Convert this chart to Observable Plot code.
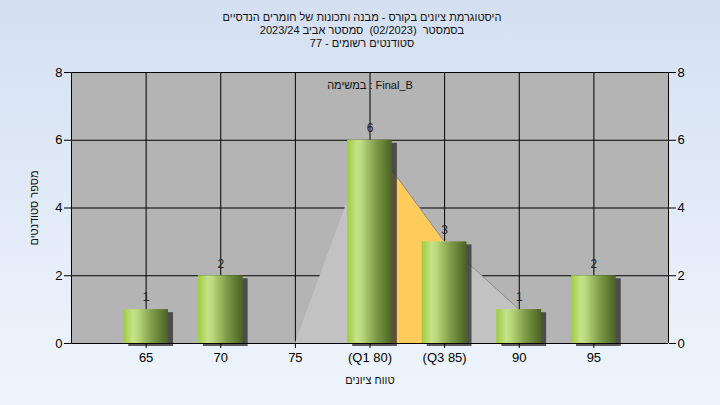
<!DOCTYPE html>
<html><head><meta charset="utf-8">
<script src="https://cdn.jsdelivr.net/npm/d3@7"></script>
<script src="https://cdn.jsdelivr.net/npm/@observablehq/plot@0.6"></script>
<style>
body{margin:0;}
#wrap{position:relative;width:720px;height:405px;background:linear-gradient(#d4e0f2,#eef5fd);font-family:"Liberation Sans",Arial,sans-serif;overflow:hidden}
#wrap svg{position:absolute;left:0;top:0}
.t{position:absolute;left:0;width:724px;text-align:center;font-size:11px;direction:rtl;color:#111;line-height:13px;white-space:pre}
.lab{position:absolute;font-size:11px;color:#111;white-space:pre;line-height:14px}
</style></head>
<body><div id="wrap"></div>
<script>
const scores = [65, 70, 75, 80, 85, 90, 95];
const counts = [1, 2, 0, 6, 3, 1, 2];
const tickLabels = ["65", "70", "75", "(Q1 80)", "(Q3 85)", "90", "95"];
const curveX = [75, 80, 85, 90];
const curveY = [0, 6, 3, 1];
const quartileX = [80, 85];
const quartileY = [6, 3];
const yTicks = [0, 2, 4, 6, 8];
const titleLines = [
  "היסטוגרמת ציונים בקורס - מבנה ותכונות של חומרים הנדסיים",
  "בסמסטר  (02/2023)  סמסטר אביב 2023/24",
  "סטודנטים רשומים - 77"
];
const taskLabel = "במשימה : Final_B";
const xLabel = "טווח ציונים";
const yLabel = "מספר סטודנטים";

const bars = scores.map((s, i) => ({s, c: counts[i], label: tickLabels[i]})).filter(d => d.c > 0);
const curve = curveX.map((x, i) => ({x, y: curveY[i]}));
const quart = quartileX.map((x, i) => ({x, y: quartileY[i]}));
const curveTop = curve.filter(d => d.x >= 80);

const plot = Plot.plot({
  width: 720, height: 405,
  marginTop: 72, marginBottom: 62, marginLeft: 71, marginRight: 52,
  style: {background: "transparent", fontFamily: "'Liberation Sans', Arial, sans-serif", fontSize: "13px", color: "#000"},
  x: {type: "linear", domain: [60, 100]},
  y: {domain: [0, 8]},
  marks: [
    Plot.frame({fill: "#b4b4b4", stroke: null}),
    Plot.gridX(scores, {stroke: "#000", strokeOpacity: 1}),
    Plot.gridY(yTicks, {stroke: "#000", strokeOpacity: 1}),
    Plot.areaY(curve, {x: "x", y: "y", fill: "#c2c2c2"}),
    Plot.areaY(quart, {x: "x", y: "y", fill: "#ffcb5a"}),
    Plot.line(curveTop, {x: "x", y: "y", stroke: "#8c8c8c", strokeWidth: 1}),
    Plot.rect(bars, {x1: d => d.s - 1.5, x2: d => d.s + 1.5, y1: 0, y2: "c", dx: 5, dy: 3, fill: "#333", fillOpacity: 0.8, ariaLabel: "shadow"}),
    Plot.rect(bars, {x1: d => d.s - 1.5, x2: d => d.s + 1.5, y1: 0, y2: "c", fill: "url(#cyl)", ariaLabel: "bars"}),
    Plot.text(bars, {x: "s", y: "c", text: d => String(d.c), dy: -12, fill: "#222", fontSize: 12}),
    Plot.ruleX([60, 100], {stroke: "#000"}),
    Plot.ruleY([0], {stroke: "#000"}),
    Plot.axisY(yTicks, {anchor: "left", tickSize: 7, tickPadding: 2, fontSize: 13, stroke: "#000"}),
    Plot.axisY(yTicks, {anchor: "right", tickSize: 7, tickPadding: 2, fontSize: 13, stroke: "#000"}),
    Plot.axisX(scores, {tickSize: 5, tickPadding: 4, fontSize: 13, stroke: "#000", tickFormat: (d, i) => tickLabels[scores.indexOf(d)]}),
    Plot.tickX([60, 100], {y1: 0, y2: -0.15, stroke: "#000"})
  ]
});

const svg = d3.select(plot);
const defs = svg.insert("defs", ":first-child");
const g = defs.append("linearGradient").attr("id", "cyl").attr("x1", 0).attr("x2", 1).attr("y1", 0).attr("y2", 0);
[[0, "#9fcc3c"], [0.22, "#c5e28a"], [0.32, "#bcd97c"], [0.65, "#7d9a48"], [1, "#4a6322"]].forEach(([o, c]) =>
  g.append("stop").attr("offset", o).attr("stop-color", c));
defs.append("filter").attr("id", "blur").attr("x", "-30%").attr("y", "-30%").attr("width", "160%").attr("height", "160%")
  .append("feGaussianBlur").attr("stdDeviation", 2.5);
svg.select('g[aria-label="shadow"]').attr("filter", "url(#blur)");

const wrap = document.getElementById("wrap");
wrap.appendChild(plot);
titleLines.forEach((t, i) => {
  const d = document.createElement("div");
  d.className = "t"; d.textContent = t; d.style.top = (11 + i * 13) + "px";
  wrap.appendChild(d);
});
function lab(text, css) {
  const d = document.createElement("div");
  d.className = "lab"; d.textContent = text; Object.assign(d.style, css);
  wrap.appendChild(d);
  return d;
}
lab(taskLabel, {left: "300px", width: "140px", textAlign: "center", top: "78px", direction: "ltr"});
lab(xLabel, {left: "300px", width: "140px", textAlign: "center", top: "373px", direction: "rtl"});
lab(yLabel, {left: "-36px", width: "140px", textAlign: "center", top: "201px", direction: "rtl", transform: "rotate(-90deg)"});
</script>
</body></html>
